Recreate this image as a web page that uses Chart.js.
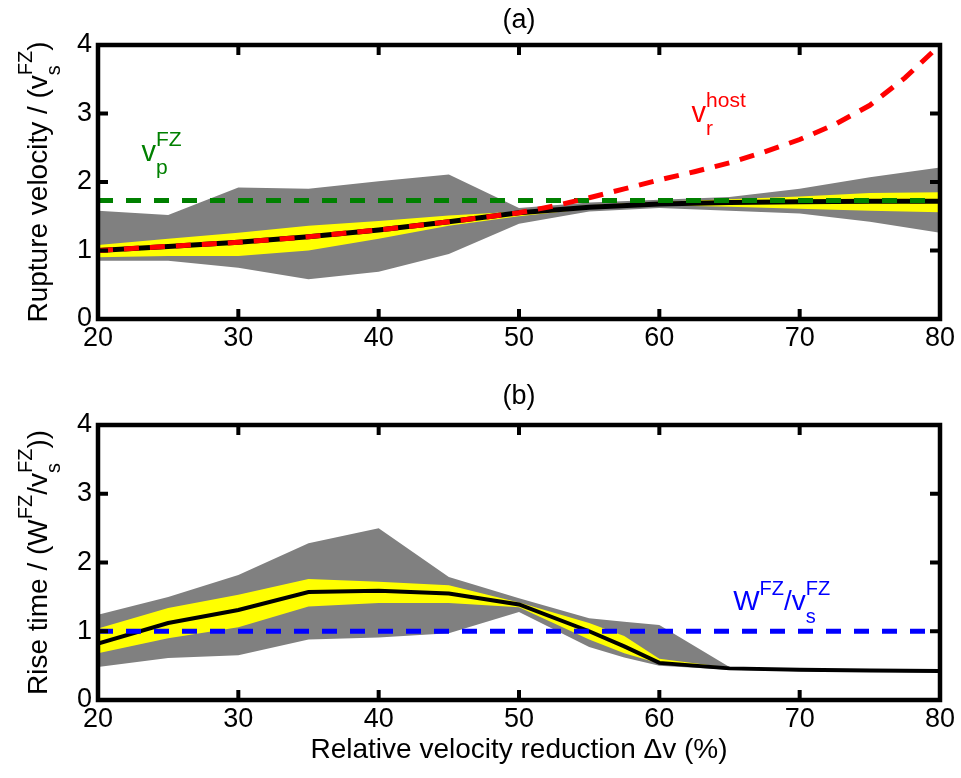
<!DOCTYPE html>
<html>
<head>
<meta charset="utf-8">
<script src="https://cdn.jsdelivr.net/npm/chart.js@4.4.0/dist/chart.umd.min.js"></script>
<style>
  html, body { margin: 0; padding: 0; background: #fff; }
  #wrap { position: relative; width: 961px; height: 778px; }
  canvas { position: absolute; left: 0; }
</style>
</head>
<body>
<div id="wrap">
  <canvas id="ruptureGraph" width="961" height="370" style="top:0"></canvas>
  <canvas id="riseGraph" width="961" height="408" style="top:370px"></canvas>
</div>
<script>
/* Rupture velocity and rise time vs relative velocity reduction */

// shared x ticks / y ticks
const xTicks = [20, 30, 40, 50, 60, 70, 80];
const yTicks = [0, 1, 2, 3, 4];

// (a) rupture velocity
const ruptureX = [20, 25, 30, 35, 40, 45, 50, 55, 60, 65, 70, 75, 80];
const ruptureMedian = [1.00, 1.06, 1.12, 1.20, 1.30, 1.42, 1.55, 1.63, 1.68, 1.70, 1.71, 1.72, 1.72];
const ruptureInnerHi = [1.08, 1.17, 1.26, 1.36, 1.43, 1.51, 1.57, 1.66, 1.71, 1.75, 1.79, 1.84, 1.85];
const ruptureInnerLo = [0.90, 0.92, 0.92, 1.00, 1.17, 1.36, 1.50, 1.61, 1.66, 1.64, 1.61, 1.58, 1.56];
const ruptureOuterHi = [1.58, 1.52, 1.92, 1.90, 2.01, 2.11, 1.62, 1.70, 1.74, 1.78, 1.90, 2.07, 2.21];
const ruptureOuterLo = [0.85, 0.85, 0.75, 0.58, 0.69, 0.95, 1.39, 1.57, 1.62, 1.58, 1.54, 1.42, 1.26];
const hostX = [20, 25, 30, 35, 40, 45, 50, 52.5, 55, 57.5, 60, 62.5, 65, 67.5, 70, 72.5, 75, 77.5, 80];
const hostSpeed = [1.00, 1.06, 1.12, 1.20, 1.30, 1.42, 1.55, 1.65, 1.77, 1.90, 2.03, 2.15, 2.28, 2.44, 2.62, 2.84, 3.12, 3.52, 4.00];
const pWaveX = [20, 80];
const pWaveSpeed = [1.73, 1.73];

// (b) rise time
const riseX = [20, 25, 30, 35, 40, 45, 50, 55, 57.5, 60, 65, 70, 75, 80];
const riseMedian = [0.82, 1.12, 1.31, 1.57, 1.59, 1.55, 1.39, 1.00, 0.78, 0.54, 0.46, 0.44, 0.43, 0.42];
const riseInnerHi = [1.04, 1.34, 1.53, 1.76, 1.72, 1.67, 1.42, 1.12, 0.93, 0.60, 0.47, 0.45, 0.44, 0.43];
const riseInnerLo = [0.68, 0.90, 1.06, 1.36, 1.41, 1.41, 1.35, 0.88, 0.68, 0.53, 0.45, 0.43, 0.42, 0.41];
const riseOuterHi = [1.24, 1.50, 1.82, 2.28, 2.50, 1.79, 1.48, 1.19, 1.14, 1.09, 0.48, 0.45, 0.44, 0.43];
const riseOuterLo = [0.48, 0.61, 0.65, 0.88, 0.91, 0.97, 1.28, 0.77, 0.62, 0.50, 0.44, 0.42, 0.41, 0.40];
const widthX = [20, 80];
const widthTime = [1.0, 1.0];

const FONT = "'Liberation Sans', Arial, sans-serif";
const GREY = '#808080';
const YELLOW = '#ffff00';

function pts(xs, ys) {
  return xs.map((x, i) => ({ x: x, y: ys[i] }));
}

function band(xs, ys, color, fillTo) {
  return {
    data: pts(xs, ys),
    borderWidth: 0,
    borderColor: 'rgba(0,0,0,0)',
    backgroundColor: color,
    fill: fillTo,
    pointRadius: 0
  };
}

function line(xs, ys, color, width, dash) {
  return {
    data: pts(xs, ys),
    borderColor: color,
    borderWidth: width,
    borderDash: dash || [],
    borderCapStyle: 'butt',
    fill: false,
    pointRadius: 0
  };
}

// text with TeX-like sub/superscripts, parts: {t} or {sup, sub}
function drawRich(ctx, parts, x, y, size, color, align) {
  const small = Math.round(size * 0.72);
  const widthOf = p => {
    if (p.t !== undefined) {
      ctx.font = size + 'px ' + FONT;
      return ctx.measureText(p.t).width;
    }
    ctx.font = small + 'px ' + FONT;
    return Math.max(p.sup ? ctx.measureText(p.sup).width : 0, p.sub ? ctx.measureText(p.sub).width : 0);
  };
  const total = parts.reduce((s, p) => s + widthOf(p), 0);
  let cx = align === 'center' ? x - total / 2 : x;
  ctx.fillStyle = color;
  ctx.textBaseline = 'alphabetic';
  ctx.textAlign = 'left';
  parts.forEach(p => {
    const w = widthOf(p);
    if (p.t !== undefined) {
      ctx.font = size + 'px ' + FONT;
      ctx.fillText(p.t, cx, y);
    } else {
      ctx.font = small + 'px ' + FONT;
      if (p.sup) ctx.fillText(p.sup, cx, y - size * 0.52);
      if (p.sub) ctx.fillText(p.sub, cx, y + size * 0.45);
    }
    cx += w;
  });
}

function framePlugin(id, texts) {
  return {
    id: id,
    afterDraw(chart) {
      const { ctx, chartArea: a, scales: { x, y } } = chart;
      ctx.save();
      ctx.strokeStyle = '#000';
      ctx.lineWidth = 4;
      ctx.beginPath();
      xTicks.forEach(v => {
        const px = x.getPixelForValue(v);
        ctx.moveTo(px, a.bottom); ctx.lineTo(px, a.bottom - 10);
        ctx.moveTo(px, a.top); ctx.lineTo(px, a.top + 10);
      });
      yTicks.forEach(v => {
        const py = y.getPixelForValue(v);
        ctx.moveTo(a.left, py); ctx.lineTo(a.left + 10, py);
        ctx.moveTo(a.right, py); ctx.lineTo(a.right - 10, py);
      });
      ctx.stroke();
      ctx.lineWidth = 4.5;
      ctx.strokeRect(a.left, a.top, a.right - a.left, a.bottom - a.top);

      texts.forEach(t => {
        if (t.at) {
          drawRich(ctx, t.parts, x.getPixelForValue(t.at[0]), y.getPixelForValue(t.at[1]), t.size, t.color, 'left');
        } else if (t.rotate) {
          ctx.save();
          ctx.translate(t.px[0], (a.top + a.bottom) / 2 + t.px[1]);
          ctx.rotate(-Math.PI / 2);
          drawRich(ctx, t.parts, 0, 0, t.size, t.color, 'center');
          ctx.restore();
        } else {
          drawRich(ctx, t.parts, (a.left + a.right) / 2, t.px[1], t.size, t.color, 'center');
        }
      });
      ctx.restore();
    }
  };
}

function axes(xHeight) {
  const tickFont = { family: FONT, size: 27 };
  return {
    x: {
      type: 'linear', min: 20, max: 80,
      ticks: { stepSize: 10, font: tickFont, color: '#000', padding: 3, maxRotation: 0 },
      grid: { display: false, drawTicks: false },
      border: { display: false },
      afterFit: s => { s.height = xHeight; }
    },
    y: {
      type: 'linear', min: 0, max: 4,
      ticks: { stepSize: 1, font: tickFont, color: '#000', padding: 6 },
      grid: { display: false, drawTicks: false },
      border: { display: false },
      afterFit: s => { s.width = 40; }
    }
  };
}

const commonOptions = {
  responsive: false,
  animation: false,
  plugins: { legend: { display: false }, tooltip: { enabled: false } }
};

// Setup rupture velocity chart
new Chart(document.getElementById('ruptureGraph').getContext('2d'), {
  type: 'line',
  data: {
    datasets: [
      line(hostX, hostSpeed, '#ff0000', 5, [15, 11]),
      line(pWaveX, pWaveSpeed, '#008000', 5, [15, 13]),
      line(ruptureX, ruptureMedian, '#000', 5),
      band(ruptureX, ruptureInnerHi, YELLOW, '+1'),
      band(ruptureX, ruptureInnerLo, YELLOW, false),
      band(ruptureX, ruptureOuterHi, GREY, '+1'),
      band(ruptureX, ruptureOuterLo, GREY, false)
    ]
  },
  options: {
    ...commonOptions,
    layout: { padding: { left: 58, right: 21, top: 45, bottom: 0 } },
    scales: axes(51)
  },
  plugins: [framePlugin('frameA', [
    { parts: [{ t: '(a)' }], px: [0, 28], size: 27, color: '#000' },
    { rotate: true, parts: [{ t: 'Rupture velocity / (v' }, { sup: 'FZ', sub: 's' }, { t: ')' }], px: [47, 0], size: 28, color: '#000' },
    { at: [23.1, 2.31], parts: [{ t: 'v' }, { sup: 'FZ', sub: 'p' }], size: 29, color: '#008000' },
    { at: [62.3, 2.87], parts: [{ t: 'v' }, { sup: 'host', sub: 'r' }], size: 29, color: '#ff0000' }
  ])]
});

// Setup rise time chart
new Chart(document.getElementById('riseGraph').getContext('2d'), {
  type: 'line',
  data: {
    datasets: [
      line(widthX, widthTime, '#0000ff', 5, [15, 13]),
      line(riseX, riseMedian, '#000', 4),
      band(riseX, riseInnerHi, YELLOW, '+1'),
      band(riseX, riseInnerLo, YELLOW, false),
      band(riseX, riseOuterHi, GREY, '+1'),
      band(riseX, riseOuterLo, GREY, false)
    ]
  },
  options: {
    ...commonOptions,
    layout: { padding: { left: 58, right: 21, top: 55, bottom: 0 } },
    scales: axes(78)
  },
  plugins: [framePlugin('frameB', [
    { parts: [{ t: '(b)' }], px: [0, 34], size: 27, color: '#000' },
    { parts: [{ t: 'Relative velocity reduction \u0394v (%)' }], px: [0, 388], size: 28, color: '#000' },
    { rotate: true, parts: [{ t: 'Rise time / (W' }, { sup: 'FZ' }, { t: '/v' }, { sup: 'FZ', sub: 's' }, { t: '))' }], px: [47, 0], size: 28, color: '#000' },
    { at: [65.26, 1.31], parts: [{ t: 'W' }, { sup: 'FZ' }, { t: '/v' }, { sup: 'FZ', sub: 's' }], size: 28, color: '#0000ff' }
  ])]
});
</script>
</body>
</html>
